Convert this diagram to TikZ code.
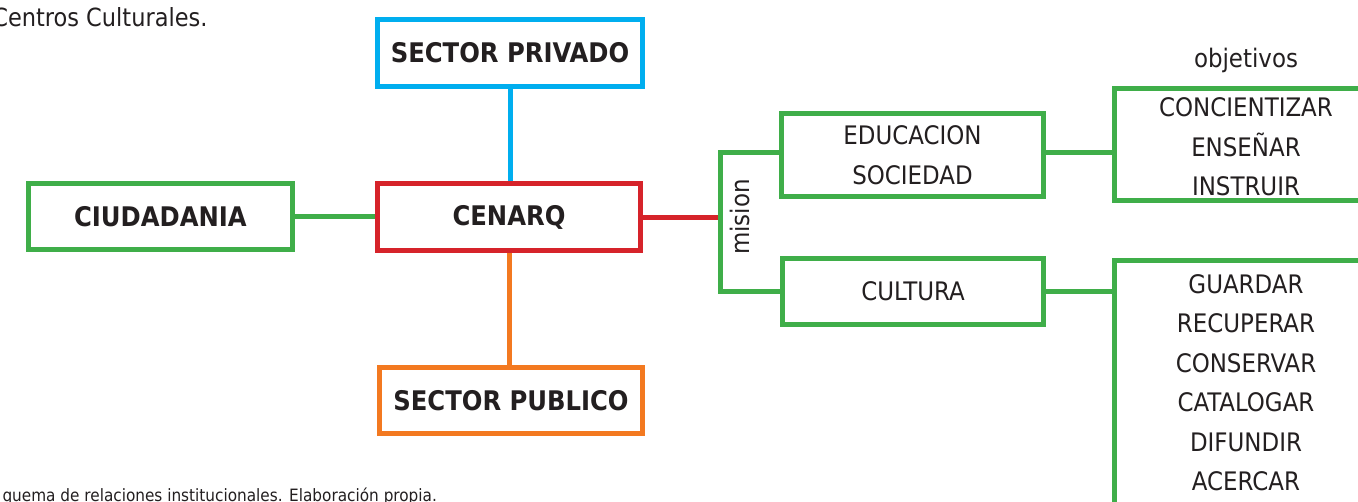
\documentclass[tikz,border=0pt]{standalone}
\usepackage{fontspec}
\setmainfont{DejaVu Sans Condensed}
\definecolor{cblue}{RGB}{0,174,239}
\definecolor{cred}{RGB}{214,35,42}
\definecolor{cgreen}{RGB}{63,174,73}
\definecolor{corange}{RGB}{243,121,32}
\definecolor{ctext}{RGB}{35,31,32}
\pgfdeclarelayer{bg}
\pgfsetlayers{bg,main}
\begin{document}
\begin{tikzpicture}[x=1pt,y=-1pt,line width=5pt,
  box/.style={draw,rectangle,inner sep=0pt,align=center,text=ctext,fill=white,line width=5pt},
  conn/.style={line width=5pt},
  boldtxt/.style={font=\fontsize{27}{33}\selectfont\bfseries},
  regtxt/.style={font=\fontsize{25.5}{39.5}\selectfont,text=ctext,align=center},
]
\useasboundingbox (0,0) rectangle (1358,501);
% main boxes
\node[box,boldtxt,draw=cblue,minimum width=265pt,minimum height=67pt] (priv) at (510,53) {SECTOR PRIVADO};
\node[box,boldtxt,draw=cred,minimum width=263pt,minimum height=67pt] (cen) at (509,217) {CENARQ};
\node[box,boldtxt,draw=cgreen,minimum width=264pt,minimum height=66pt] (ciu) at (160.5,216.5) {CIUDADANIA};
\node[box,boldtxt,draw=corange,minimum width=263pt,minimum height=66pt] (pub) at (511,400.5) {SECTOR PUBLICO};
% mission boxes
\node[box,regtxt,draw=cgreen,minimum width=262pt,minimum height=83pt] (edu) at (912.5,155) {EDUCACION\\SOCIEDAD};
\node[box,regtxt,draw=cgreen,minimum width=261pt,minimum height=66pt] (cul) at (913,291.5) {CULTURA};
\node[regtxt,rotate=90,inner sep=0pt] (mis) at (740,217) {mision};
% objective boxes
\node[box,draw=cgreen,minimum width=270pt,minimum height=112pt] (ob1) at (1249.5,144.5) {};
\node[box,draw=cgreen,minimum width=270pt,minimum height=300pt] (ob2) at (1249.5,410.5) {};
\node[regtxt,inner sep=0pt] (objl) at (1246,60) {objetivos};
\node[regtxt,inner sep=0pt] (t1) at (1246,147) {CONCIENTIZAR\\ENSEÑAR\\INSTRUIR};
\node[regtxt,inner sep=0pt] (t2) at (1246,382.5) {GUARDAR\\RECUPERAR\\CONSERVAR\\CATALOGAR\\DIFUNDIR\\ACERCAR};
% captions
\node[anchor=base east,font=\fontsize{25}{29}\selectfont,text=ctext,inner sep=0pt] (cap1) at (210,26) {Centros Culturales.};
\node[anchor=base west,font=\fontsize{17}{20}\selectfont,text=ctext,inner sep=0pt] (cap2) at (0,501) {quema de relaciones institucionales. Elaboración propia.};
% connectors
\coordinate (brk) at (720,218);
\begin{pgfonlayer}{bg}
\draw[conn,cblue] (priv.south) -- (priv.south |- cen.north);
\draw[conn,corange] (cen.south) -- (cen.south |- pub.north);
\draw[conn,cgreen] (ciu.east) -- (ciu.east -| cen.west);
\draw[conn,cred] (cen.east) -- (cen.east -| brk);
\draw[conn,cgreen] ([yshift=3pt]edu.west) -| (brk) |- (cul.west);
\draw[conn,cgreen] ([yshift=3pt]edu.east) -- ([yshift=3pt]edu.east -| ob1.west);
\draw[conn,cgreen] (cul.east) -- (cul.east -| ob2.west);
\end{pgfonlayer}
\end{tikzpicture}
\end{document}
